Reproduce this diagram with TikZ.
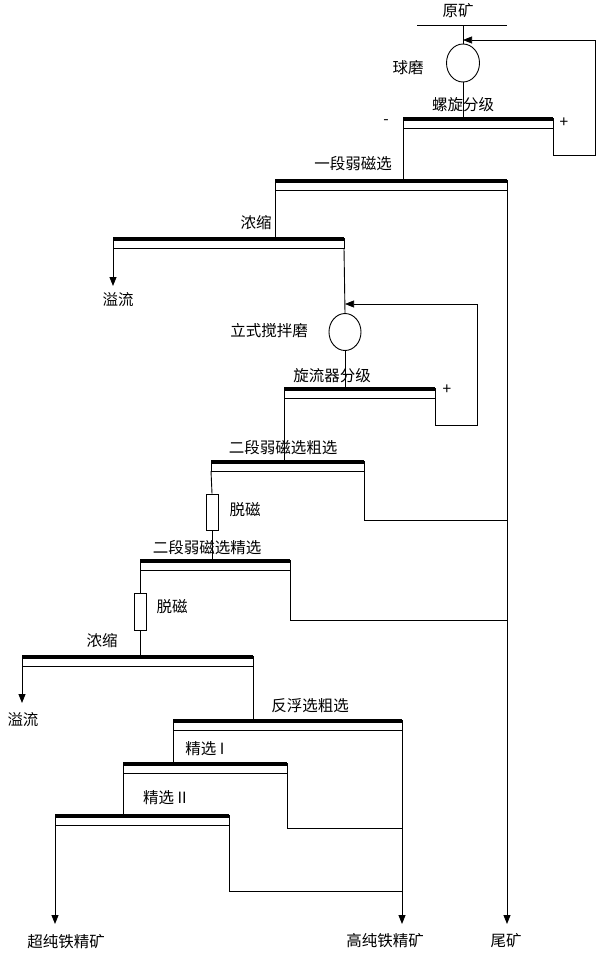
\documentclass[tikz,border=0pt]{standalone}
\usepackage{fontspec}
\newfontfamily\cjk{Noto Sans CJK SC}
\usetikzlibrary{arrows.meta,shapes.geometric}
\tikzset{
  lbl/.style={font=\cjk\fontsize{15.5}{17}\selectfont,inner sep=0pt},
  ln/.style={line width=0.9pt},
  arr/.style={ln,-{Triangle[length=9pt,width=7pt]}},
  farr/.style={line width=0.6pt,-{Triangle[length=9pt,width=7pt]}},
}
\newcommand{\scr}[4]{% name, x1, x2, ytop
  \draw[ln] (#2,#4) rectangle (#3,#4+10);
  \draw[line width=3.5pt] (#2,#4+1) -- (#3,#4+1);
  \coordinate (#1L) at (#2,#4+10); \coordinate (#1R) at (#3,#4+10);
  \coordinate (#1LT) at (#2,#4); \coordinate (#1RT) at (#3,#4);
}
\begin{document}
\begin{tikzpicture}[x=1pt,y=-1pt]
\useasboundingbox (0,0) rectangle (600,956);
% raw ore
\draw[ln] (417,25) -- (507,25);
\node[lbl] (yk) at (458,11) {原矿};
\draw[ln] (463,25) -- (463,44);
\node[draw,ln,ellipse,minimum width=33pt,minimum height=38pt,inner sep=0pt] (bm) at (463,63) {};
\node[lbl] at (408,68) {球磨};
\scr{s1}{403}{553}{118}
\node[lbl] at (463,105) {螺旋分级};
\node[lbl] at (386,122) {-};
\node[lbl] at (564,123) {+};
\draw[ln] (bm.south) -- (463,118);
\coordinate (fb1) at (463,40);
\draw[farr] (s1R) -- (553,155) -- (595,155) -- (595,40) -- (fb1);
% stage 1 LIMS
\scr{s2}{275}{507}{180}
\node[lbl] at (353,164) {一段弱磁选};
\draw[ln] (s1L) -- (403,180);
\coordinate (tail) at (507,924);
\draw[arr] (s2R) -- (tail);
\node[lbl] at (506,941) {尾矿};
% thickening 1
\scr{s3}{113}{344}{238}
\node[lbl] at (256,223) {浓缩};
\draw[ln] (s2L) -- (275,238);
\coordinate (of1) at (113,286);
\draw[arr] (s3L) -- (of1);
\node[lbl] at (118,300) {溢流};
\node[draw,ln,ellipse,minimum width=32pt,minimum height=37pt,inner sep=0pt] (vm) at (345,332) {};
\node[lbl] at (269,331) {立式搅拌磨};
\draw[ln] (s3R) -- (vm.north);
\scr{s4}{284}{435}{388}
\node[lbl] at (332,376) {旋流器分级};
\node[lbl] at (447,390) {+};
\draw[ln] (vm.south) -- (345,388);
\coordinate (fb2) at (345,304);
\draw[farr] (s4R) -- (435,425) -- (477,425) -- (477,304) -- (fb2);
% stage 2 rougher
\scr{s5}{211}{364}{461}
\node[lbl] at (283,448) {二段弱磁选粗选};
\draw[ln] (s4L) -- (284,461);
\draw[ln] (s5R) -- (364,520) -- (507,520);
\node[draw,ln,minimum width=12pt,minimum height=36pt,inner sep=0pt] (dm1) at (212,512) {};
\node[lbl] at (245,510) {脱磁};
\draw[ln] (s5L) -- (dm1.north);
% stage 2 cleaner
\scr{s6}{140}{290}{560}
\node[lbl] at (207,548) {二段弱磁选精选};
\draw[ln] (dm1.south) -- (212,560);
\draw[ln] (s6R) -- (290,620) -- (507,620);
\node[draw,ln,minimum width=12pt,minimum height=37pt,inner sep=0pt] (dm2) at (140,612) {};
\node[lbl] at (172,607) {脱磁};
\draw[ln] (s6L) -- (dm2.north);
% thickening 2
\scr{s7}{22}{253}{656}
\node[lbl] at (102,641) {浓缩};
\draw[ln] (dm2.south) -- (140,656);
\coordinate (of2) at (22,703);
\draw[arr] (s7L) -- (of2);
\node[lbl] at (23,720) {溢流};
% reverse flotation
\scr{s8}{173}{402}{720}
\node[lbl] at (310,706) {反浮选粗选};
\draw[ln] (s7R) -- (253,720);
\coordinate (hc) at (402,924);
\draw[arr] (s8R) -- (hc);
\node[lbl] at (385,941) {高纯铁精矿};
\scr{s9}{123}{287}{763}
\node[lbl] at (205,749) {精选 I};
\draw[ln] (s8L) -- (173,763);
\draw[ln] (s9R) -- (287,828) -- (402,828);
\scr{s10}{55}{229}{815}
\node[lbl] at (165,798) {精选 II};
\draw[ln] (s9L) -- (123,815);
\draw[ln] (s10R) -- (229,891) -- (402,891);
\coordinate (uc) at (55,924);
\draw[arr] (s10L) -- (uc);
\node[lbl] at (66,942) {超纯铁精矿};
\end{tikzpicture}
\end{document}
